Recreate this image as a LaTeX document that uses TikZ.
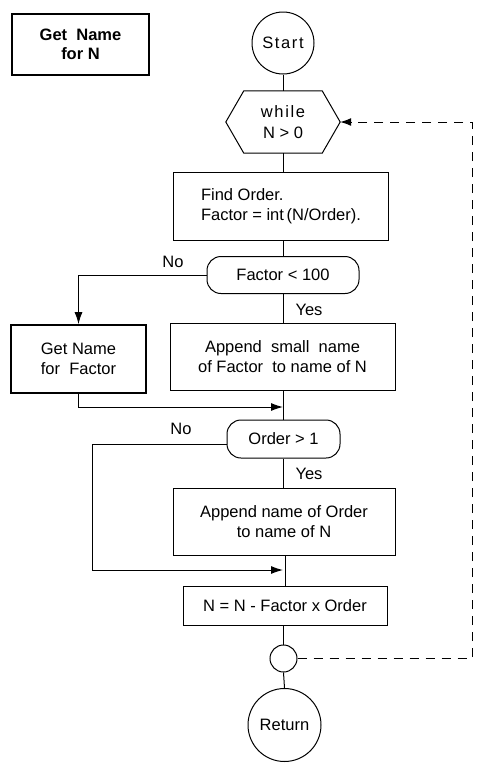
\documentclass[tikz,border=0pt]{standalone}
\usepackage{fontspec}
\setmainfont{Liberation Sans}
\usetikzlibrary{arrows.meta}
\begin{document}
\begin{tikzpicture}[x=1pt,y=-1pt,
  every node/.style={font=\fontsize{16.5}{20.5}\selectfont, inner sep=0pt, align=center},
  box/.style={draw, line width=1pt, rectangle},
  thickbox/.style={draw, line width=1.7pt, rectangle},
  term/.style={draw, line width=1pt, circle},
  cond/.style={draw, line width=1pt, rounded corners=14pt, rectangle},
  conn/.style={line width=1pt},
  arr/.style={line width=1pt, -{Latex[length=12pt,width=8pt]}},
  loopback/.style={line width=1pt, dash pattern=on 9pt off 7pt, -{Latex[length=11pt,width=8pt]}}]
\useasboundingbox (0,0) rectangle (491,772);
\fill[white] (0,0) rectangle (491,772);

% nodes
\node[thickbox, minimum width=137pt, minimum height=61pt, font=\fontsize{16.5}{19.5}\selectfont\bfseries] (gn) at (80.5,44.5) {Get\ \ Name\\for N};
\node[term, minimum size=62pt] (start) at (283,43) {\addfontfeature{LetterSpace=10}Start};
\node[minimum width=114pt, minimum height=62pt] (wh) at (283,122) {\addfontfeature{LetterSpace=10}while\\N > 0};
\draw[conn] ([xshift=18pt]wh.north west) -- ([xshift=-18pt]wh.north east) -- (wh.east)
  -- ([xshift=-18pt]wh.south east) -- ([xshift=18pt]wh.south west) -- (wh.west) -- cycle;
\node[box, minimum width=215pt, minimum height=68pt, align=left] (fo) at (281,206) {Find Order.\\Factor = int\,(N/Order).};
\node[cond, minimum width=152pt, minimum height=37pt] (f100) at (283,275) {Factor < 100};
\node[thickbox, minimum width=135pt, minimum height=68pt] (gnf) at (78.5,359) {Get Name\\for\ \ Factor};
\node[box, minimum width=225pt, minimum height=67pt] (app1) at (282.5,356.5) {Append\ \ small\ \ name\\of Factor\ \ to name of N};
\node[cond, minimum width=113pt, minimum height=38pt] (o1) at (283.5,439) {Order > 1};
\node[box, minimum width=222pt, minimum height=67pt] (app2) at (284,521.5) {Append name of Order\\to name of N};
\node[box, minimum width=204pt, minimum height=39pt] (nn) at (285,605.5) {N = N - Factor x Order};
\node[term, minimum size=27pt] (jc) at (283.5,658.5) {};
\node[term, minimum size=73pt] (ret) at (284.5,725) {Return};

% labels
\node (no1) at (173,262) {No};
\node (yes1) at (309,310) {Yes};
\node (no2) at (181,429) {No};
\node (yes2) at (309,474) {Yes};

% helper coordinates
\coordinate (m1) at (283,407);
\coordinate (m2) at (283,570);
\coordinate (c2) at (92,444);
\coordinate (d2) at (472,122);

% connectors
\draw[conn] (start.south) -- (start.south |- wh.north);
\draw[conn] (wh.south) -- (wh.south |- fo.north);
\draw[conn] (fo.south -| f100.north) -- (f100.north);
\draw[conn] (f100.south) -- (f100.south |- app1.north);
\draw[arr] (f100.west) -| (gnf.north);
\draw[conn] (app1.south -| o1.north) -- (o1.north);
\draw[arr] (gnf.south) |- (m1);
\draw[arr] ([yshift=-5pt]o1.west) -- (c2) |- (m2);
\draw[conn] (o1.south) -- (o1.south |- app2.north);
\draw[conn] (app2.south -| nn.north) -- (nn.north);
\draw[conn] (nn.south -| jc) -- (jc.north);
\draw[conn] (jc.south) -- (ret.north);
\draw[loopback] (jc.east) -| (d2) -- (wh.east);
\end{tikzpicture}
\end{document}
